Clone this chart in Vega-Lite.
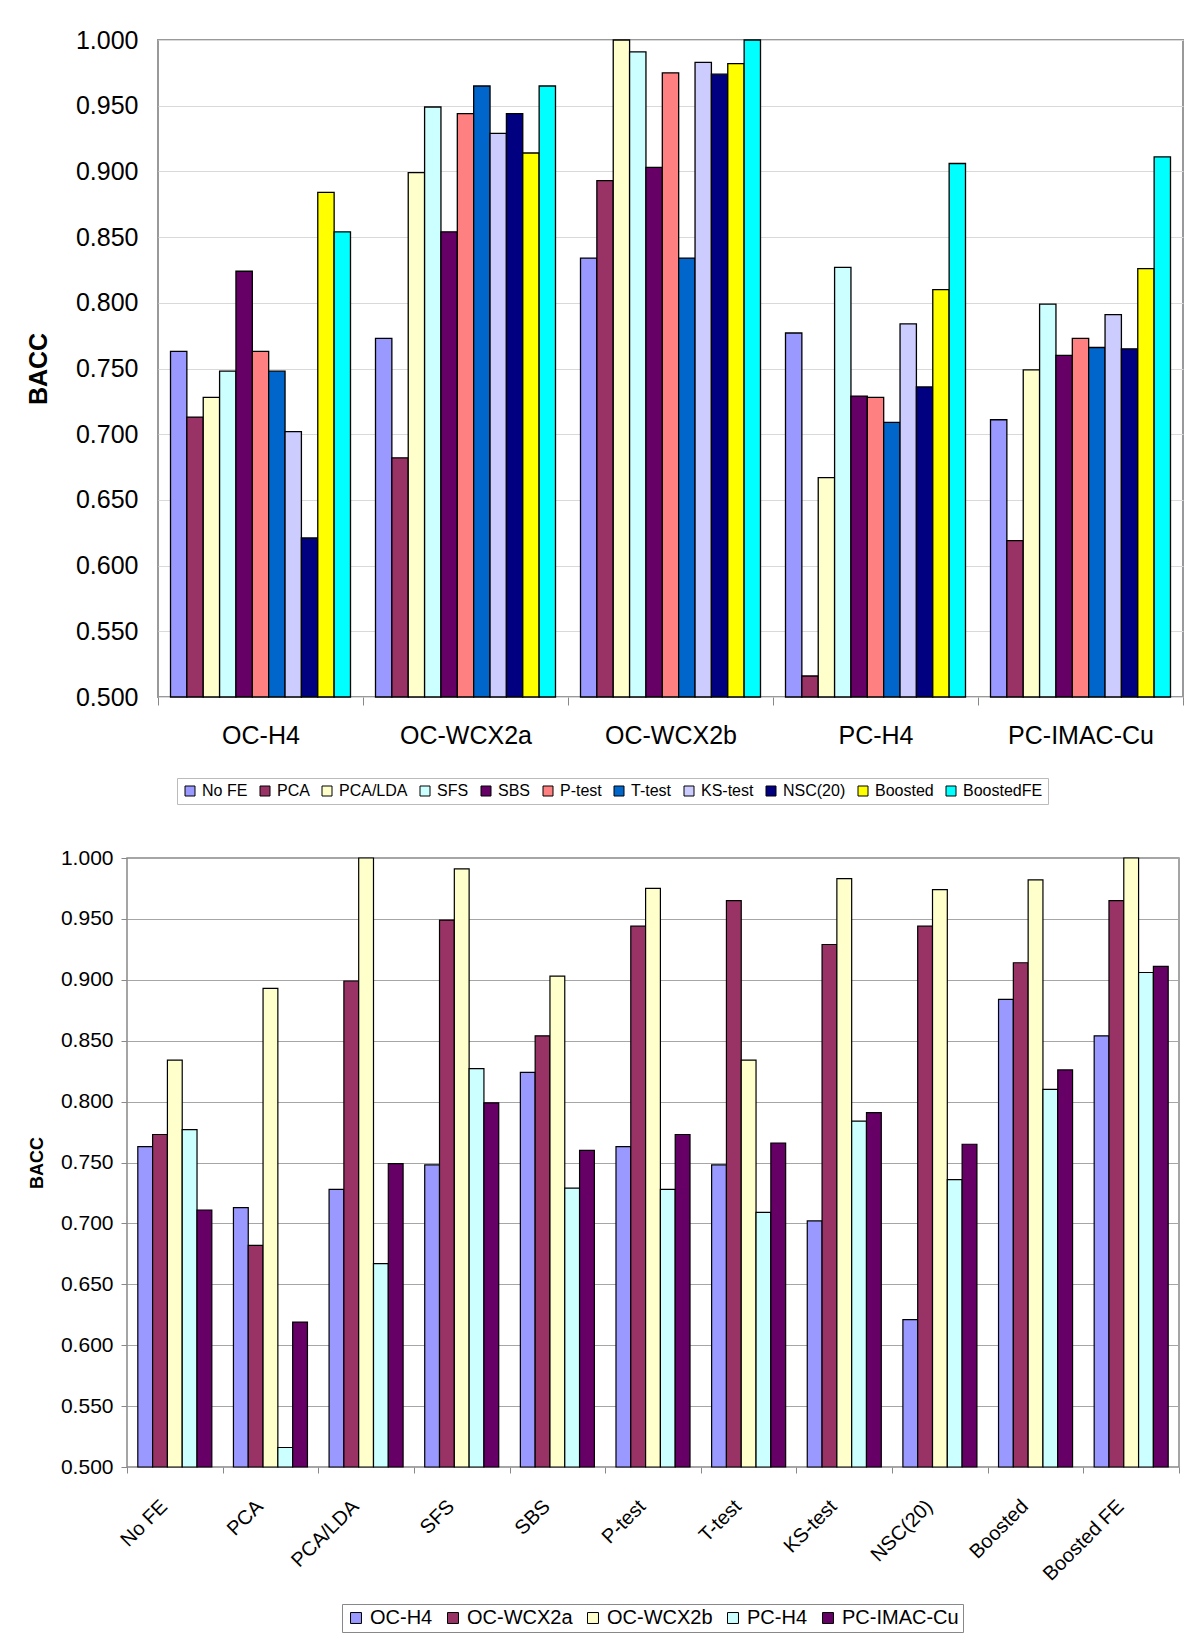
{
  "$schema": "https://vega.github.io/schema/vega-lite/v6.json",
  "background": "white",
  "padding": {"left": 25, "top": 27, "right": 0, "bottom": 0},
  "config": {
    "font": "Liberation Sans",
    "axis": {"labelFont": "Liberation Sans", "titleFont": "Liberation Sans", "labelColor": "black", "titleColor": "black"},
    "legend": {"labelFont": "Liberation Sans", "labelColor": "black"}
  },
  "resolve": {
    "scale": {"color": "independent", "xOffset": "independent", "x": "independent", "y": "independent"},
    "legend": {"color": "independent"}
  },
  "datasets": {
    "bacc": [
      {"dataset": "OC-H4", "method": "No FE", "methodLabel": "No FE", "value": 0.763},
      {"dataset": "OC-H4", "method": "PCA", "methodLabel": "PCA", "value": 0.713},
      {"dataset": "OC-H4", "method": "PCA/LDA", "methodLabel": "PCA/LDA", "value": 0.728},
      {"dataset": "OC-H4", "method": "SFS", "methodLabel": "SFS", "value": 0.748},
      {"dataset": "OC-H4", "method": "SBS", "methodLabel": "SBS", "value": 0.824},
      {"dataset": "OC-H4", "method": "P-test", "methodLabel": "P-test", "value": 0.763},
      {"dataset": "OC-H4", "method": "T-test", "methodLabel": "T-test", "value": 0.748},
      {"dataset": "OC-H4", "method": "KS-test", "methodLabel": "KS-test", "value": 0.702},
      {"dataset": "OC-H4", "method": "NSC(20)", "methodLabel": "NSC(20)", "value": 0.621},
      {"dataset": "OC-H4", "method": "Boosted", "methodLabel": "Boosted", "value": 0.884},
      {"dataset": "OC-H4", "method": "BoostedFE", "methodLabel": "Boosted FE", "value": 0.854},
      {"dataset": "OC-WCX2a", "method": "No FE", "methodLabel": "No FE", "value": 0.773},
      {"dataset": "OC-WCX2a", "method": "PCA", "methodLabel": "PCA", "value": 0.682},
      {"dataset": "OC-WCX2a", "method": "PCA/LDA", "methodLabel": "PCA/LDA", "value": 0.899},
      {"dataset": "OC-WCX2a", "method": "SFS", "methodLabel": "SFS", "value": 0.949},
      {"dataset": "OC-WCX2a", "method": "SBS", "methodLabel": "SBS", "value": 0.854},
      {"dataset": "OC-WCX2a", "method": "P-test", "methodLabel": "P-test", "value": 0.944},
      {"dataset": "OC-WCX2a", "method": "T-test", "methodLabel": "T-test", "value": 0.965},
      {"dataset": "OC-WCX2a", "method": "KS-test", "methodLabel": "KS-test", "value": 0.929},
      {"dataset": "OC-WCX2a", "method": "NSC(20)", "methodLabel": "NSC(20)", "value": 0.944},
      {"dataset": "OC-WCX2a", "method": "Boosted", "methodLabel": "Boosted", "value": 0.914},
      {"dataset": "OC-WCX2a", "method": "BoostedFE", "methodLabel": "Boosted FE", "value": 0.965},
      {"dataset": "OC-WCX2b", "method": "No FE", "methodLabel": "No FE", "value": 0.834},
      {"dataset": "OC-WCX2b", "method": "PCA", "methodLabel": "PCA", "value": 0.893},
      {"dataset": "OC-WCX2b", "method": "PCA/LDA", "methodLabel": "PCA/LDA", "value": 1.0},
      {"dataset": "OC-WCX2b", "method": "SFS", "methodLabel": "SFS", "value": 0.991},
      {"dataset": "OC-WCX2b", "method": "SBS", "methodLabel": "SBS", "value": 0.903},
      {"dataset": "OC-WCX2b", "method": "P-test", "methodLabel": "P-test", "value": 0.975},
      {"dataset": "OC-WCX2b", "method": "T-test", "methodLabel": "T-test", "value": 0.834},
      {"dataset": "OC-WCX2b", "method": "KS-test", "methodLabel": "KS-test", "value": 0.983},
      {"dataset": "OC-WCX2b", "method": "NSC(20)", "methodLabel": "NSC(20)", "value": 0.974},
      {"dataset": "OC-WCX2b", "method": "Boosted", "methodLabel": "Boosted", "value": 0.982},
      {"dataset": "OC-WCX2b", "method": "BoostedFE", "methodLabel": "Boosted FE", "value": 1.0},
      {"dataset": "PC-H4", "method": "No FE", "methodLabel": "No FE", "value": 0.777},
      {"dataset": "PC-H4", "method": "PCA", "methodLabel": "PCA", "value": 0.516},
      {"dataset": "PC-H4", "method": "PCA/LDA", "methodLabel": "PCA/LDA", "value": 0.667},
      {"dataset": "PC-H4", "method": "SFS", "methodLabel": "SFS", "value": 0.827},
      {"dataset": "PC-H4", "method": "SBS", "methodLabel": "SBS", "value": 0.729},
      {"dataset": "PC-H4", "method": "P-test", "methodLabel": "P-test", "value": 0.728},
      {"dataset": "PC-H4", "method": "T-test", "methodLabel": "T-test", "value": 0.709},
      {"dataset": "PC-H4", "method": "KS-test", "methodLabel": "KS-test", "value": 0.784},
      {"dataset": "PC-H4", "method": "NSC(20)", "methodLabel": "NSC(20)", "value": 0.736},
      {"dataset": "PC-H4", "method": "Boosted", "methodLabel": "Boosted", "value": 0.81},
      {"dataset": "PC-H4", "method": "BoostedFE", "methodLabel": "Boosted FE", "value": 0.906},
      {"dataset": "PC-IMAC-Cu", "method": "No FE", "methodLabel": "No FE", "value": 0.711},
      {"dataset": "PC-IMAC-Cu", "method": "PCA", "methodLabel": "PCA", "value": 0.619},
      {"dataset": "PC-IMAC-Cu", "method": "PCA/LDA", "methodLabel": "PCA/LDA", "value": 0.749},
      {"dataset": "PC-IMAC-Cu", "method": "SFS", "methodLabel": "SFS", "value": 0.799},
      {"dataset": "PC-IMAC-Cu", "method": "SBS", "methodLabel": "SBS", "value": 0.76},
      {"dataset": "PC-IMAC-Cu", "method": "P-test", "methodLabel": "P-test", "value": 0.773},
      {"dataset": "PC-IMAC-Cu", "method": "T-test", "methodLabel": "T-test", "value": 0.766},
      {"dataset": "PC-IMAC-Cu", "method": "KS-test", "methodLabel": "KS-test", "value": 0.791},
      {"dataset": "PC-IMAC-Cu", "method": "NSC(20)", "methodLabel": "NSC(20)", "value": 0.765},
      {"dataset": "PC-IMAC-Cu", "method": "Boosted", "methodLabel": "Boosted", "value": 0.826},
      {"dataset": "PC-IMAC-Cu", "method": "BoostedFE", "methodLabel": "Boosted FE", "value": 0.911}
    ],
    "empty": []
  },
  "spacing": 41,
  "vconcat": [
    {
      "hconcat": [
        {
          "data": {"name": "empty"},
          "width": 31,
          "height": 10,
          "view": {"stroke": null},
          "mark": "point",
          "encoding": {}
        },
        {
          "data": {"name": "bacc"},
          "width": 1025,
          "height": 657,
          "view": {"stroke": "#999999", "strokeWidth": 2},
          "mark": {"type": "bar", "stroke": "black", "strokeWidth": 1.3},
          "encoding": {
            "x": {
              "field": "dataset", "type": "nominal",
              "sort": ["OC-H4", "OC-WCX2a", "OC-WCX2b", "PC-H4", "PC-IMAC-Cu"],
              "scale": {"paddingInner": 0, "paddingOuter": 0},
              "axis": {"title": null, "labelAngle": 0, "labelFontSize": 25, "labelPadding": 18,
                       "tickBand": "extent", "tickSize": 8, "tickColor": "#888888", "domain": false}
            },
            "xOffset": {
              "field": "method", "type": "nominal",
              "sort": ["No FE", "PCA", "PCA/LDA", "SFS", "SBS", "P-test", "T-test", "KS-test", "NSC(20)", "Boosted", "BoostedFE"],
              "scale": {"paddingInner": 0, "paddingOuter": 0.764}
            },
            "y": {
              "field": "value", "type": "quantitative",
              "scale": {"domain": [0.5, 1.0], "zero": false, "nice": false},
              "axis": {"title": "BACC", "titleFontSize": 25, "titleFontWeight": "bold", "titlePadding": 24,
                       "labelFontSize": 25, "labelPadding": 20, "format": ".3f", "ticks": false, "domain": false,
                       "values": [0.5, 0.55, 0.6, 0.65, 0.7, 0.75, 0.8, 0.85, 0.9, 0.95, 1.0],
                       "gridColor": "#d9d9d9", "gridWidth": 1.2}
            },
            "y2": {"datum": 0.5},
            "color": {
              "field": "method", "type": "nominal",
              "sort": ["No FE", "PCA", "PCA/LDA", "SFS", "SBS", "P-test", "T-test", "KS-test", "NSC(20)", "Boosted", "BoostedFE"],
              "scale": {
                "domain": ["No FE", "PCA", "PCA/LDA", "SFS", "SBS", "P-test", "T-test", "KS-test", "NSC(20)", "Boosted", "BoostedFE"],
                "range": ["#9999FF", "#993366", "#FFFFCC", "#CCFFFF", "#660066", "#FF8080", "#0066CC", "#CCCCFF", "#000080", "#FFFF00", "#00FFFF"]
              },
              "legend": {
                "title": null, "orient": "none", "legendX": 50, "legendY": 738,
                "direction": "horizontal", "columns": 11, "columnPadding": 9,
                "symbolType": "square", "symbolSize": 100, "symbolStrokeColor": "black", "symbolStrokeWidth": 1,
                "labelFontSize": 16, "labelOffset": 4,
                "strokeColor": "#bbbbbb", "fillColor": "white", "padding": 5
              }
            }
          }
        }
      ],
      "bounds": "flush",
      "spacing": 0
    },
    {
      "data": {"name": "bacc"},
      "width": 1052,
      "height": 609,
      "view": {"stroke": "#888888", "strokeWidth": 1.5},
      "mark": {"type": "bar", "stroke": "black", "strokeWidth": 1.2},
      "encoding": {
        "x": {
          "field": "methodLabel", "type": "nominal",
          "sort": ["No FE", "PCA", "PCA/LDA", "SFS", "SBS", "P-test", "T-test", "KS-test", "NSC(20)", "Boosted", "Boosted FE"],
          "scale": {"paddingInner": 0, "paddingOuter": 0},
          "axis": {"title": null, "labelAngle": -45, "labelAlign": "right", "labelBaseline": "middle",
                   "labelFontSize": 20, "labelPadding": 30, "labelOffset": -11,
                   "tickBand": "extent", "tickSize": 6, "tickColor": "#888888", "domain": false}
        },
        "xOffset": {
          "field": "dataset", "type": "nominal",
          "sort": ["OC-H4", "OC-WCX2a", "OC-WCX2b", "PC-H4", "PC-IMAC-Cu"],
          "scale": {"paddingInner": 0, "paddingOuter": 0.73}
        },
        "y": {
          "field": "value", "type": "quantitative",
          "scale": {"domain": [0.5, 1.0], "zero": false, "nice": false},
          "axis": {"title": "BACC", "titleFontSize": 18, "titleFontWeight": "bold", "titlePadding": 14,
                   "labelFontSize": 21, "labelPadding": 8, "format": ".3f", "tickSize": 6, "tickColor": "#888888",
                   "domain": false,
                   "values": [0.5, 0.55, 0.6, 0.65, 0.7, 0.75, 0.8, 0.85, 0.9, 0.95, 1.0],
                   "gridColor": "#a6a6a6", "gridWidth": 1.2}
        },
        "y2": {"datum": 0.5},
        "color": {
          "field": "dataset", "type": "nominal",
          "sort": ["OC-H4", "OC-WCX2a", "OC-WCX2b", "PC-H4", "PC-IMAC-Cu"],
          "scale": {
            "domain": ["OC-H4", "OC-WCX2a", "OC-WCX2b", "PC-H4", "PC-IMAC-Cu"],
            "range": ["#9999FF", "#993366", "#FFFFCC", "#CCFFFF", "#660066"]
          },
          "legend": {
            "title": null, "orient": "none", "legendX": 215, "legendY": 746,
            "direction": "horizontal", "columns": 5, "columnPadding": 10,
            "symbolType": "square", "symbolSize": 120, "symbolStrokeColor": "black", "symbolStrokeWidth": 1,
            "labelFontSize": 20, "labelOffset": 4,
            "strokeColor": "#888888", "fillColor": "white", "padding": 4
          }
        }
      }
    }
  ]
}
